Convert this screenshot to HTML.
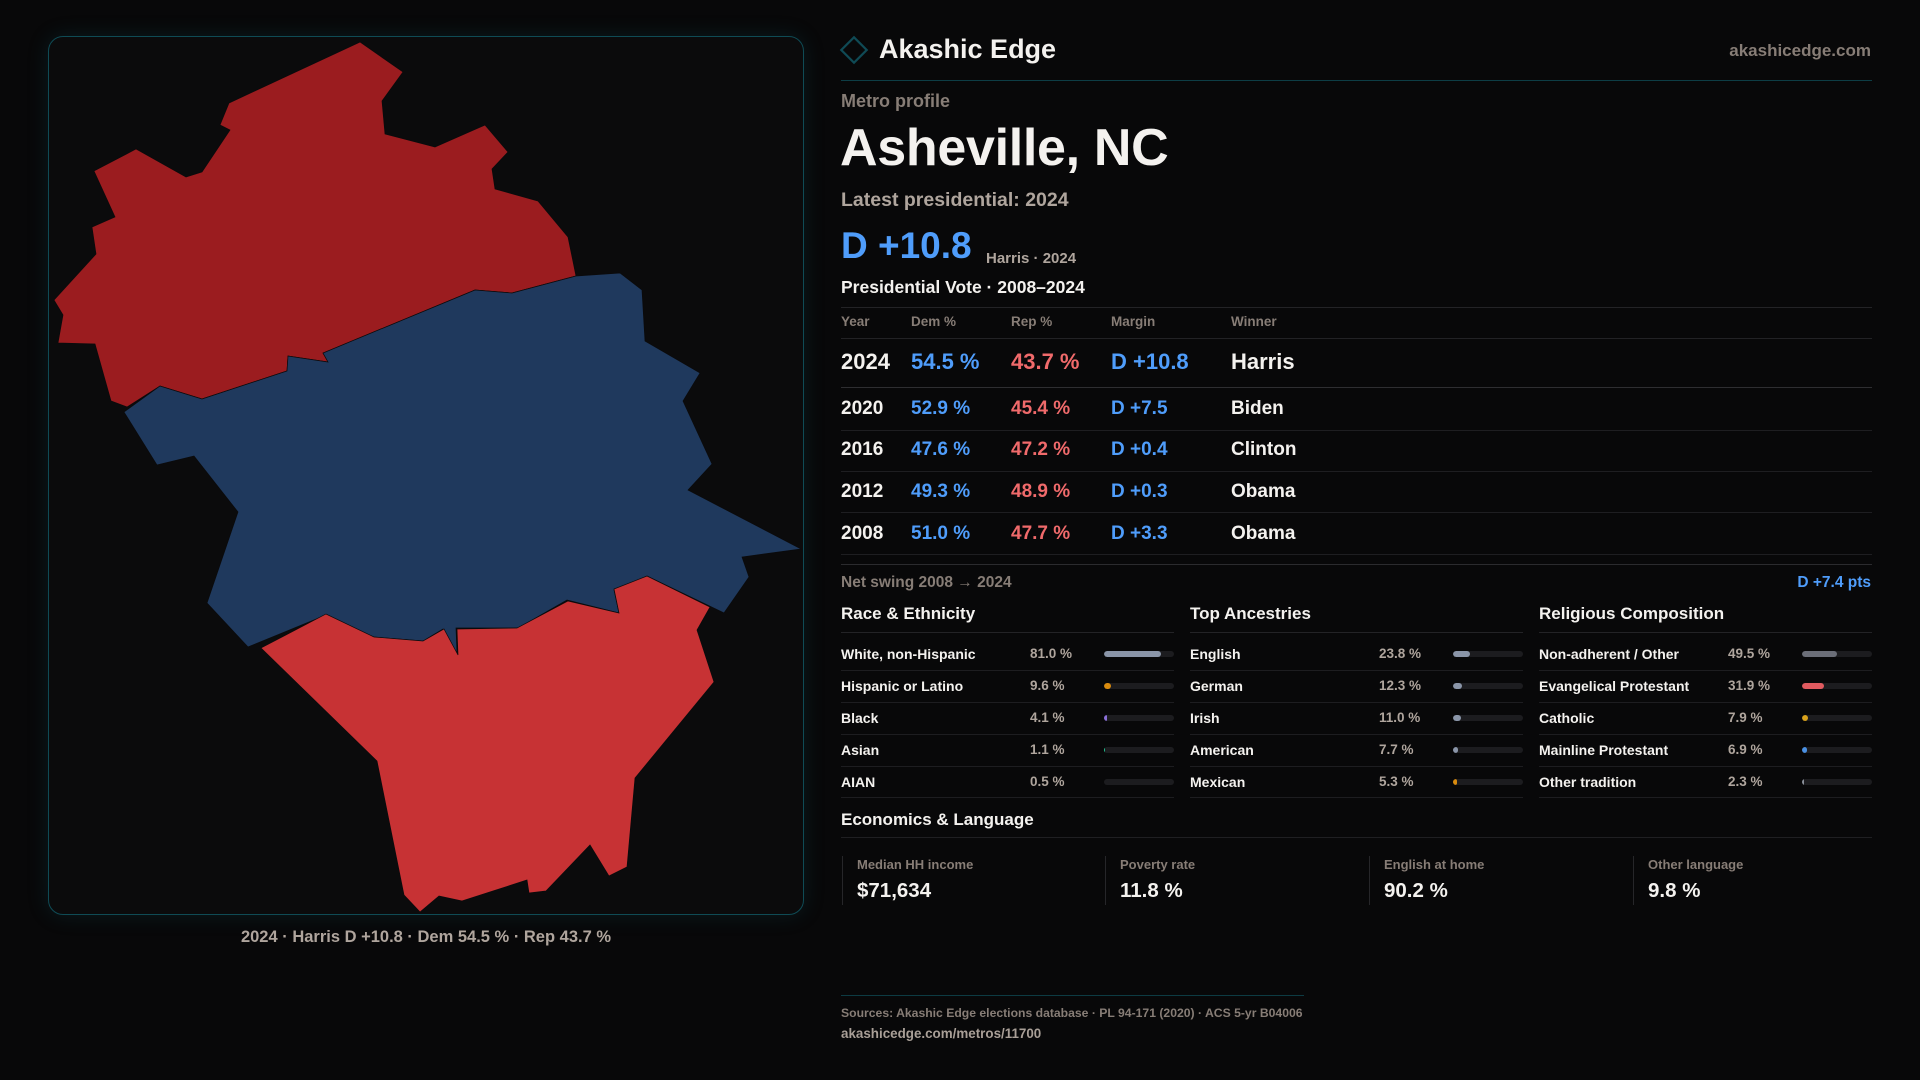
<!DOCTYPE html>
<html>
<head>
<meta charset="utf-8">
<style>
  html,body{margin:0;padding:0;}
  body{width:1920px;height:1080px;background:#080809;position:relative;overflow:hidden;
       font-family:"Liberation Sans",sans-serif;color:#f4f2ef;}
  .a{position:absolute;line-height:1;white-space:nowrap;}
  .b{font-weight:bold;}
  .panel{position:absolute;left:48px;top:36px;width:756px;height:879px;box-sizing:border-box;
         border:1.5px solid #0f4b55;border-radius:15px;background:#0b0b0c;
         box-shadow:0 0 22px rgba(20,110,130,0.18);}
  .hl{position:absolute;height:1px;}
  .gray{color:#877d76;}
  .tan{color:#afa59d;}
  .blue{color:#4f9dfb;}
  .red{color:#f06a6b;}
  .track{position:absolute;width:70px;height:6px;border-radius:3px;background:#1c1c1f;overflow:hidden;}
  .fill{position:absolute;left:0;top:0;height:6px;border-radius:3px;}
  .vl{position:absolute;width:1px;background:#262629;}
</style>
</head>
<body>

<div class="panel"></div>
<svg width="1920" height="1080" style="position:absolute;left:0;top:0;">
  <polygon fill="#9b1c1f" stroke="#0b0b0c" stroke-width="0.7" points="360,42 403,72 382,101 385,134 435,147 485,125 508,152 492,169 495,189 538,201 568,237 576,276 512,293 475,290 323,353 328,362 288,356 287,371 202,399 160,386 127,407 111,401 95,344 58,343 63,315 54,300 96,254 92,227 115,217 94,171 136,149 186,177 202,172 230,130 220,125 229,103"/>
  <polygon fill="#1f395d" stroke="#0b0b0c" stroke-width="0.7" points="576,276 620,273 642,290 645,341 700,373 683,401 712,464 688,490 801,549 742,557 749,577 724,613 647,576 614,590 619,613 567,600 518,628 456,628 457,654 443,629 423,641 373,637 326,615 248,647 207,603 238,512 194,456 157,465 124,412 160,386 202,399 287,371 288,356 328,362 323,353 475,290 512,293"/>
  <polygon fill="#c73234" stroke="#0b0b0c" stroke-width="0.7" points="261,648 326,614 374,637 423,641 444,629 458,655 457,629 517,628 568,601 619,613 614,589 647,576 710,607 697,630 714,682 635,778 627,867 609,876 590,845 546,891 529,893 527,880 462,901 439,896 420,912 404,895 377,761"/>
  <rect x="845" y="41" width="18" height="18" fill="none" stroke="#0f4a55" stroke-width="2.2" transform="rotate(45 854 50)"/>
</svg>

<div class="a b tan" style="left:0;width:852px;text-align:center;top:929px;font-size:16.5px;">2024 · Harris D +10.8 · Dem 54.5 % · Rep 43.7 %</div>

<!-- header -->
<div class="a b" style="left:879px;top:36px;font-size:27px;">Akashic Edge</div>
<div class="a b gray" style="right:49px;top:42px;font-size:17px;">akashicedge.com</div>
<div class="hl" style="left:841px;width:1031px;top:80px;background:#0d3d45;"></div>

<div class="a b gray" style="left:841px;top:92px;font-size:18px;">Metro profile</div>
<div class="a b" style="left:840px;top:122px;font-size:52px;letter-spacing:-0.3px;">Asheville, NC</div>
<div class="a b tan" style="left:841px;top:191px;font-size:19.5px;">Latest presidential: 2024</div>
<div class="a b blue" style="left:841px;top:227px;font-size:37px;">D +10.8</div>
<div class="a b tan" style="left:986px;top:251px;font-size:15px;">Harris · 2024</div>
<div class="a b" style="left:841px;top:279px;font-size:17.5px;">Presidential Vote · 2008–2024</div>
<div class="hl" style="left:841px;width:1031px;top:307px;background:#232326;"></div>

<!-- table header -->
<div class="a b gray" style="left:841px;top:315px;font-size:13.5px;">Year</div>
<div class="a b gray" style="left:911px;top:315px;font-size:13.5px;">Dem %</div>
<div class="a b gray" style="left:1011px;top:315px;font-size:13.5px;">Rep %</div>
<div class="a b gray" style="left:1111px;top:315px;font-size:13.5px;">Margin</div>
<div class="a b gray" style="left:1231px;top:315px;font-size:13.5px;">Winner</div>
<div class="hl" style="left:841px;width:1031px;top:338px;background:#222225;"></div>

<!-- 2024 -->
<div class="a b" style="left:841px;top:351px;font-size:22px;">2024</div>
<div class="a b blue" style="left:911px;top:351px;font-size:22px;">54.5 %</div>
<div class="a b red" style="left:1011px;top:351px;font-size:22px;">43.7 %</div>
<div class="a b blue" style="left:1111px;top:351px;font-size:22px;">D +10.8</div>
<div class="a b" style="left:1231px;top:351px;font-size:22px;">Harris</div>
<div class="hl" style="left:841px;width:1031px;top:387px;background:#2e2e31;"></div>

<!-- 2020 -->
<div class="a b" style="left:841px;top:399px;font-size:19px;">2020</div>
<div class="a b blue" style="left:911px;top:399px;font-size:19px;">52.9 %</div>
<div class="a b red" style="left:1011px;top:399px;font-size:19px;">45.4 %</div>
<div class="a b blue" style="left:1111px;top:399px;font-size:19px;">D +7.5</div>
<div class="a b" style="left:1231px;top:399px;font-size:19px;">Biden</div>
<div class="hl" style="left:841px;width:1031px;top:430px;background:#1e1e21;"></div>

<!-- 2016 -->
<div class="a b" style="left:841px;top:440px;font-size:19px;">2016</div>
<div class="a b blue" style="left:911px;top:440px;font-size:19px;">47.6 %</div>
<div class="a b red" style="left:1011px;top:440px;font-size:19px;">47.2 %</div>
<div class="a b blue" style="left:1111px;top:440px;font-size:19px;">D +0.4</div>
<div class="a b" style="left:1231px;top:440px;font-size:19px;">Clinton</div>
<div class="hl" style="left:841px;width:1031px;top:471px;background:#1e1e21;"></div>

<!-- 2012 -->
<div class="a b" style="left:841px;top:482px;font-size:19px;">2012</div>
<div class="a b blue" style="left:911px;top:482px;font-size:19px;">49.3 %</div>
<div class="a b red" style="left:1011px;top:482px;font-size:19px;">48.9 %</div>
<div class="a b blue" style="left:1111px;top:482px;font-size:19px;">D +0.3</div>
<div class="a b" style="left:1231px;top:482px;font-size:19px;">Obama</div>
<div class="hl" style="left:841px;width:1031px;top:512px;background:#1e1e21;"></div>

<!-- 2008 -->
<div class="a b" style="left:841px;top:524px;font-size:19px;">2008</div>
<div class="a b blue" style="left:911px;top:524px;font-size:19px;">51.0 %</div>
<div class="a b red" style="left:1011px;top:524px;font-size:19px;">47.7 %</div>
<div class="a b blue" style="left:1111px;top:524px;font-size:19px;">D +3.3</div>
<div class="a b" style="left:1231px;top:524px;font-size:19px;">Obama</div>
<div class="hl" style="left:841px;width:1031px;top:554px;background:#1e1e21;"></div>
<div class="hl" style="left:841px;width:1031px;top:564px;background:#2b2b2e;"></div>

<div class="a b gray" style="left:841px;top:575px;font-size:15.5px;">Net swing 2008 → 2024</div>
<div class="a b blue" style="right:49px;top:575px;font-size:15.5px;">D +7.4 pts</div>

<!-- Section headings -->
<div class="a b" style="left:841px;top:605px;font-size:17px;">Race &amp; Ethnicity</div>
<div class="a b" style="left:1190px;top:605px;font-size:17px;">Top Ancestries</div>
<div class="a b" style="left:1539px;top:605px;font-size:17px;">Religious Composition</div>
<div class="hl" style="left:841px;width:333px;top:632px;background:#232326;"></div>
<div class="hl" style="left:1190px;width:333px;top:632px;background:#232326;"></div>
<div class="hl" style="left:1539px;width:333px;top:632px;background:#232326;"></div>

<!-- Race rows -->
<div class="a b" style="left:841px;top:647px;font-size:14px;">White, non-Hispanic</div>
<div class="a b tan" style="left:1030px;top:647px;font-size:13.5px;">81.0 %</div>
<div class="track" style="left:1104px;top:651px;"><div class="fill" style="width:56.7px;background:#8a95a8;"></div></div>
<div class="hl" style="left:841px;width:333px;top:670px;background:#1d1d20;"></div>

<div class="a b" style="left:841px;top:679px;font-size:14px;">Hispanic or Latino</div>
<div class="a b tan" style="left:1030px;top:679px;font-size:13.5px;">9.6 %</div>
<div class="track" style="left:1104px;top:683px;"><div class="fill" style="width:6.7px;background:#d98b0e;"></div></div>
<div class="hl" style="left:841px;width:333px;top:702px;background:#1d1d20;"></div>

<div class="a b" style="left:841px;top:711px;font-size:14px;">Black</div>
<div class="a b tan" style="left:1030px;top:711px;font-size:13.5px;">4.1 %</div>
<div class="track" style="left:1104px;top:715px;"><div class="fill" style="width:3px;border-radius:1px;background:#8a6fd8;"></div></div>
<div class="hl" style="left:841px;width:333px;top:734px;background:#1d1d20;"></div>

<div class="a b" style="left:841px;top:743px;font-size:14px;">Asian</div>
<div class="a b tan" style="left:1030px;top:743px;font-size:13.5px;">1.1 %</div>
<div class="track" style="left:1104px;top:747px;"><div class="fill" style="width:1px;border-radius:0;background:#22c08f;"></div></div>
<div class="hl" style="left:841px;width:333px;top:766px;background:#1d1d20;"></div>

<div class="a b" style="left:841px;top:775px;font-size:14px;">AIAN</div>
<div class="a b tan" style="left:1030px;top:775px;font-size:13.5px;">0.5 %</div>
<div class="track" style="left:1104px;top:779px;"></div>
<div class="hl" style="left:841px;width:333px;top:797px;background:#1d1d20;"></div>

<!-- Ancestry rows -->
<div class="a b" style="left:1190px;top:647px;font-size:14px;">English</div>
<div class="a b tan" style="left:1379px;top:647px;font-size:13.5px;">23.8 %</div>
<div class="track" style="left:1453px;top:651px;"><div class="fill" style="width:16.7px;background:#8a95a8;"></div></div>
<div class="hl" style="left:1190px;width:333px;top:670px;background:#1d1d20;"></div>

<div class="a b" style="left:1190px;top:679px;font-size:14px;">German</div>
<div class="a b tan" style="left:1379px;top:679px;font-size:13.5px;">12.3 %</div>
<div class="track" style="left:1453px;top:683px;"><div class="fill" style="width:8.6px;background:#8a95a8;"></div></div>
<div class="hl" style="left:1190px;width:333px;top:702px;background:#1d1d20;"></div>

<div class="a b" style="left:1190px;top:711px;font-size:14px;">Irish</div>
<div class="a b tan" style="left:1379px;top:711px;font-size:13.5px;">11.0 %</div>
<div class="track" style="left:1453px;top:715px;"><div class="fill" style="width:7.7px;background:#8a95a8;"></div></div>
<div class="hl" style="left:1190px;width:333px;top:734px;background:#1d1d20;"></div>

<div class="a b" style="left:1190px;top:743px;font-size:14px;">American</div>
<div class="a b tan" style="left:1379px;top:743px;font-size:13.5px;">7.7 %</div>
<div class="track" style="left:1453px;top:747px;"><div class="fill" style="width:5.4px;background:#8a95a8;"></div></div>
<div class="hl" style="left:1190px;width:333px;top:766px;background:#1d1d20;"></div>

<div class="a b" style="left:1190px;top:775px;font-size:14px;">Mexican</div>
<div class="a b tan" style="left:1379px;top:775px;font-size:13.5px;">5.3 %</div>
<div class="track" style="left:1453px;top:779px;"><div class="fill" style="width:3.7px;background:#d98b0e;"></div></div>
<div class="hl" style="left:1190px;width:333px;top:797px;background:#1d1d20;"></div>

<!-- Religion rows -->
<div class="a b" style="left:1539px;top:647px;font-size:14px;">Non-adherent / Other</div>
<div class="a b tan" style="left:1728px;top:647px;font-size:13.5px;">49.5 %</div>
<div class="track" style="left:1802px;top:651px;"><div class="fill" style="width:34.7px;background:#6b6e78;"></div></div>
<div class="hl" style="left:1539px;width:333px;top:670px;background:#1d1d20;"></div>

<div class="a b" style="left:1539px;top:679px;font-size:14px;">Evangelical Protestant</div>
<div class="a b tan" style="left:1728px;top:679px;font-size:13.5px;">31.9 %</div>
<div class="track" style="left:1802px;top:683px;"><div class="fill" style="width:22.3px;background:#e05a5f;"></div></div>
<div class="hl" style="left:1539px;width:333px;top:702px;background:#1d1d20;"></div>

<div class="a b" style="left:1539px;top:711px;font-size:14px;">Catholic</div>
<div class="a b tan" style="left:1728px;top:711px;font-size:13.5px;">7.9 %</div>
<div class="track" style="left:1802px;top:715px;"><div class="fill" style="width:5.5px;background:#d9a21b;"></div></div>
<div class="hl" style="left:1539px;width:333px;top:734px;background:#1d1d20;"></div>

<div class="a b" style="left:1539px;top:743px;font-size:14px;">Mainline Protestant</div>
<div class="a b tan" style="left:1728px;top:743px;font-size:13.5px;">6.9 %</div>
<div class="track" style="left:1802px;top:747px;"><div class="fill" style="width:4.8px;background:#4a90e2;"></div></div>
<div class="hl" style="left:1539px;width:333px;top:766px;background:#1d1d20;"></div>

<div class="a b" style="left:1539px;top:775px;font-size:14px;">Other tradition</div>
<div class="a b tan" style="left:1728px;top:775px;font-size:13.5px;">2.3 %</div>
<div class="track" style="left:1802px;top:779px;"><div class="fill" style="width:1.6px;border-radius:0;background:#8a8f99;"></div></div>
<div class="hl" style="left:1539px;width:333px;top:797px;background:#1d1d20;"></div>

<!-- Economics -->
<div class="a b" style="left:841px;top:811px;font-size:17px;">Economics &amp; Language</div>
<div class="hl" style="left:841px;width:1031px;top:837px;background:#1f1f22;"></div>

<div class="vl" style="left:842px;top:856px;height:49px;"></div>
<div class="a b gray" style="left:857px;top:858px;font-size:13px;">Median HH income</div>
<div class="a b" style="left:857px;top:881px;font-size:20.5px;">$71,634</div>

<div class="vl" style="left:1105px;top:856px;height:49px;"></div>
<div class="a b gray" style="left:1120px;top:858px;font-size:13px;">Poverty rate</div>
<div class="a b" style="left:1120px;top:881px;font-size:20.5px;">11.8 %</div>

<div class="vl" style="left:1369px;top:856px;height:49px;"></div>
<div class="a b gray" style="left:1384px;top:858px;font-size:13px;">English at home</div>
<div class="a b" style="left:1384px;top:881px;font-size:20.5px;">90.2 %</div>

<div class="vl" style="left:1633px;top:856px;height:49px;"></div>
<div class="a b gray" style="left:1648px;top:858px;font-size:13px;">Other language</div>
<div class="a b" style="left:1648px;top:881px;font-size:20.5px;">9.8 %</div>

<!-- footer -->
<div class="hl" style="left:841px;width:463px;top:995px;background:#0d3b43;"></div>
<div class="a b gray" style="left:841px;top:1007px;font-size:12.2px;">Sources: Akashic Edge elections database · PL 94-171 (2020) · ACS 5-yr B04006</div>
<div class="a b" style="left:841px;top:1027px;font-size:13.4px;color:#a99f97;">akashicedge.com/metros/11700</div>

</body>
</html>
